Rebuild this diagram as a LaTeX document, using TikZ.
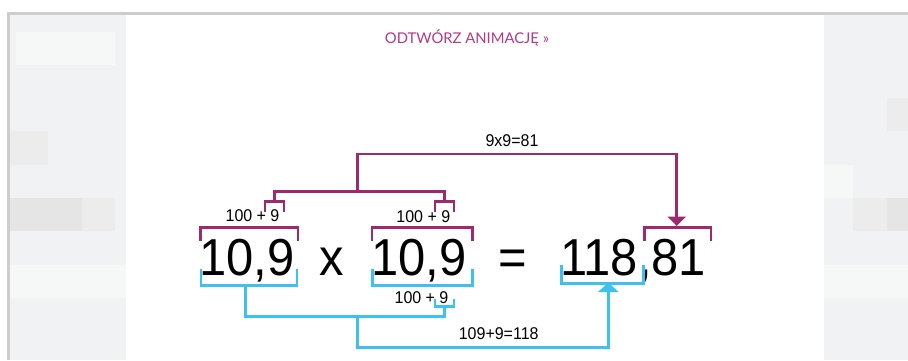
\documentclass[tikz,border=0pt]{standalone}
\usepackage{fontspec}
\usetikzlibrary{arrows.meta}
\setmainfont{Liberation Sans}
\newfontfamily\numfont[FakeStretch=0.94]{Liberation Sans}
\newfontfamily\linkfont{Lato}
\definecolor{mag}{HTML}{9E2A6E}
\definecolor{sky}{HTML}{3DC2F0}
\definecolor{linkc}{HTML}{B23A86}
\definecolor{bord}{HTML}{CDCDCD}
\definecolor{tileA}{HTML}{F1F2F3}
\definecolor{tileB}{HTML}{E5E5E5}
\definecolor{tileC}{HTML}{ECECED}
\definecolor{tileD}{HTML}{F6F7F7}
\begin{document}
\begin{tikzpicture}[x=1pt,y=-1pt,
  bigtxt/.style={inner sep=0pt, font=\numfont\fontsize{52}{52}\selectfont, anchor=base west},
  bigop/.style={inner sep=0pt, font=\numfont\fontsize{52}{52}\selectfont, anchor=base},
  smalltxt/.style={inner sep=0pt, font=\numfont\fontsize{17}{17}\selectfont, anchor=base},
  magline/.style={draw=mag, line width=2.6pt, line join=miter},
  skyline/.style={draw=sky, line width=2.6pt, line join=miter}]
\useasboundingbox (0,0) rectangle (908,360);
\fill[white] (0,0) rectangle (908,360);
% side strips
\fill[tileA] (9.5,14.5) rectangle (126,360);
\fill[tileA] (824,14.5) rectangle (908,360);
\fill[tileB] (9.5,198) rectangle (82,231);
\fill[tileC] (82,198) rectangle (115,231);
\fill[tileC] (9.5,131) rectangle (48,165);
\fill[tileD] (9.5,265) rectangle (126,298);
\fill[tileD] (16,32) rectangle (115,65);
\fill[tileC] (853,198) rectangle (908,231);
\fill[tileB] (887,198) rectangle (908,231);
\fill[tileC] (887,98) rectangle (908,131);
\fill[tileD] (824,265) rectangle (908,298);
\fill[tileD] (824,165) rectangle (853,198);
% border
\fill[bord] (7,12) rectangle (908,14.5);
\fill[bord] (7,12) rectangle (9.5,360);
% link text
\node[inner sep=0pt, anchor=base, text=linkc, font=\linkfont\fontsize{14.8}{14.8}\selectfont] (link) at (467,43) {ODTWÓRZ ANIMACJĘ »};
% big numbers
\node[bigtxt] (a) at (199,275.3) {10,9};
\node[bigop] (x) at (331.7,275.3) {x};
\node[bigtxt] (b) at (371,275.3) {10,9};
\node[bigop] (eq) at (513,275.3) {=};
\node[bigtxt] (c) at (560,275.3) {118,81};
% small labels
\node[smalltxt] (la) at (252.5,221.7) {100 + 9};
\node[smalltxt] (lb) at (423.3,222.7) {100 + 9};
\node[smalltxt] (lc) at (421.5,303) {100 + 9};
\node[smalltxt] (lm) at (512,146) {9x9=81};
\node[smalltxt] (ls) at (498.7,339.3) {109+9=118};
% magenta brackets
\draw[magline] (200.5,241) |- (298,227.3) -- (298,241);
\draw[magline] (372,241) |- (472.5,227.3) -- (472.5,241);
\draw[magline] (644.3,240.7) |- (711,227.3) -- (711,240.7);
\draw[magline] (265,211.7) |- (284,201.7) -- (284,211.7);
\draw[magline] (435,211.7) |- (454,201.7) -- (454,211.7);
% sky brackets
\draw[skyline] (201,269) |- (297,285.7) -- (297,269);
\draw[skyline] (372.5,269) |- (472.5,285.7) -- (472.5,269);
\draw[skyline] (561.7,265) |- (643.3,283.3) -- (643.3,265);
\draw[skyline] (435,299.3) |- (454,306.7) -- (454,299.3);
% connector anchors
\coordinate (s1) at (274.5,201.7);
\coordinate (s2) at (444.5,201.7);
\coordinate (mj) at (357.3,191.7);
\coordinate (mt) at (676.7,226);
\coordinate (k1) at (245.5,285.7);
\coordinate (k2) at (444.5,306.7);
\coordinate (kj) at (357.3,316.7);
\coordinate (kt) at (608.3,282.5);
% magenta connectors
\draw[magline] (s1) |- (mj) -| (s2);
\draw[magline, -{Triangle[width=18pt,length=9.5pt]}] (mj) -- ++(0,-37.7) -| (mt);
% sky connectors
\draw[skyline] (k1) |- (kj) -| (k2);
\draw[skyline, -{Triangle[width=20pt,length=9.5pt]}] (kj) -- ++(0,30.6) -| (kt);
\end{tikzpicture}
\end{document}
